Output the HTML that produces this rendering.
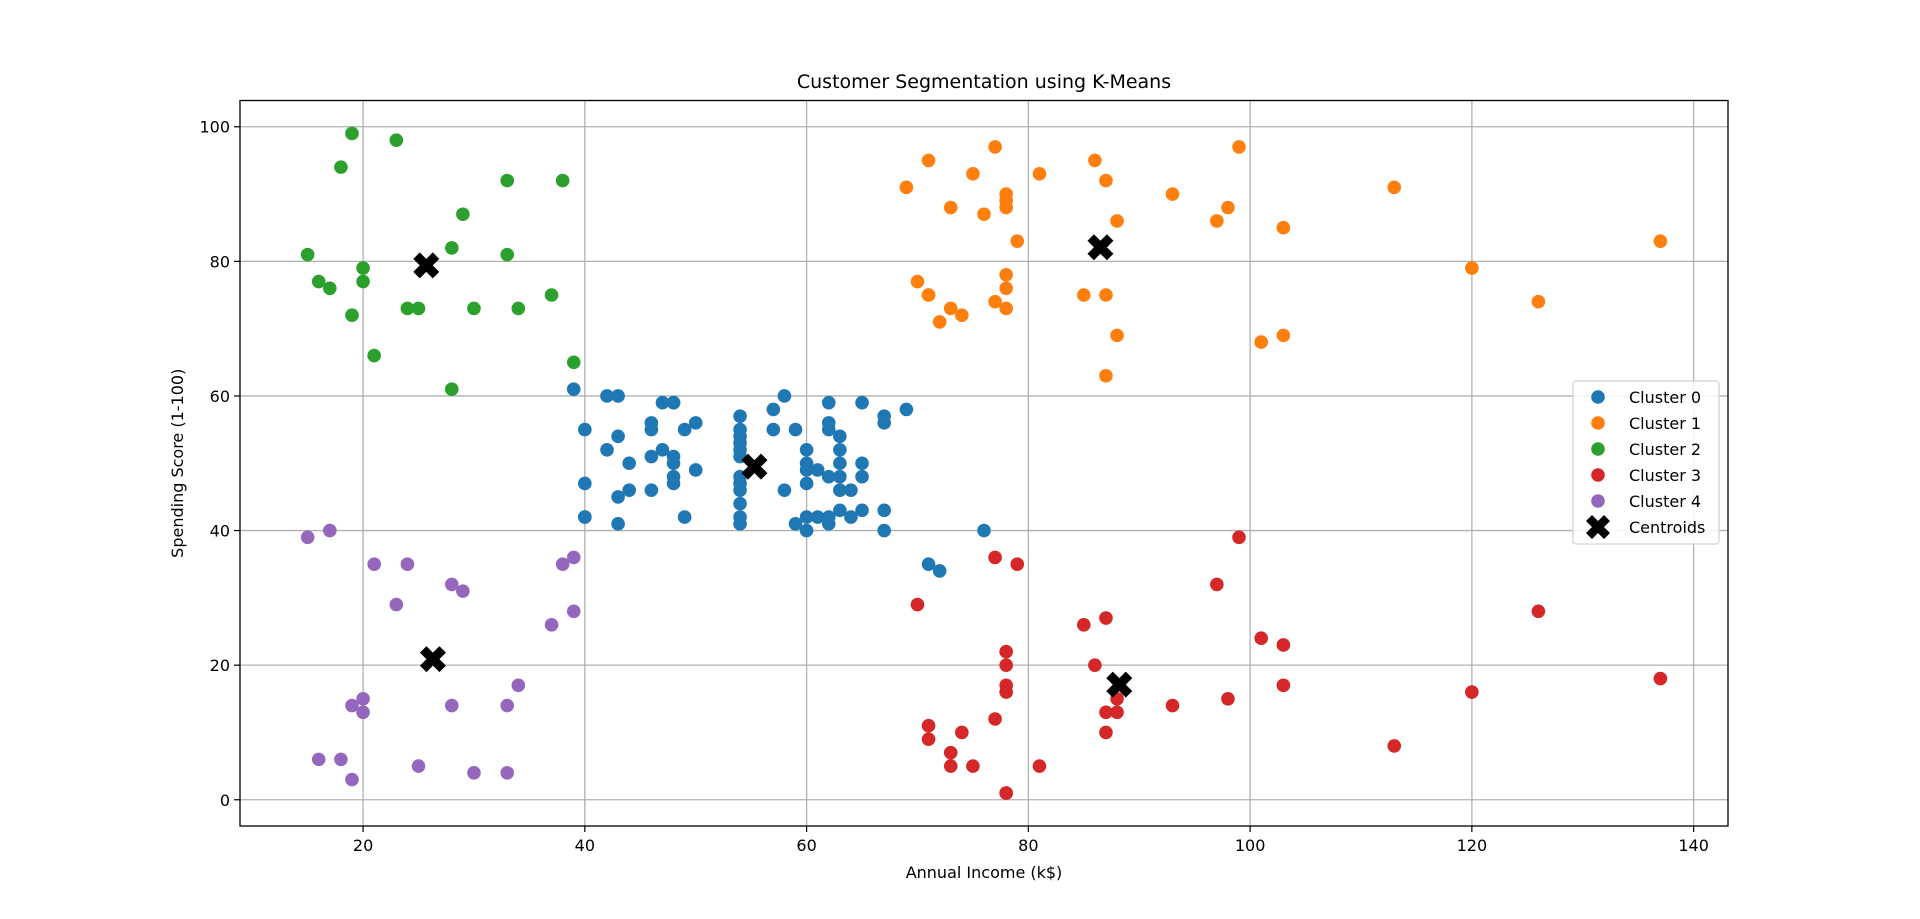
<!DOCTYPE html>
<html><head><meta charset="utf-8"><style>
body{margin:0;background:#fff;}
svg{display:block;font-family:"DejaVu Sans","Liberation Sans",sans-serif;}
</style></head><body>
<svg id="chart" width="1920" height="919" viewBox="0 0 1920 919" xmlns="http://www.w3.org/2000/svg">
<rect width="1920" height="919" fill="#fff"/>
<g id="grid"></g><g id="pts"></g><g id="axes"></g>
</svg>
<script>
const income=[15,15,16,16,17,17,18,18,19,19,19,19,20,20,20,20,21,21,23,23,24,24,25,25,28,28,28,28,29,29,30,30,33,33,33,33,34,34,37,37,38,38,39,39,39,39,40,40,40,40,42,42,43,43,43,43,44,44,46,46,46,46,47,47,48,48,48,48,48,48,49,49,50,50,54,54,54,54,54,54,54,54,54,54,54,54,57,57,58,58,59,59,60,60,60,60,60,60,61,61,62,62,62,62,62,62,63,63,63,63,63,63,64,64,65,65,65,65,67,67,67,67,69,69,70,70,71,71,71,71,71,71,72,72,73,73,73,73,74,74,75,75,76,76,77,77,77,77,78,78,78,78,78,78,78,78,78,78,78,78,79,79,81,81,85,85,86,86,87,87,87,87,87,87,88,88,88,88,93,93,97,97,98,98,99,99,101,101,103,103,103,103,113,113,120,120,126,126,137,137];
const score=[39,81,6,77,40,76,6,94,3,72,14,99,15,77,13,79,35,66,29,98,35,73,5,73,14,82,32,61,31,87,4,73,4,92,14,81,17,73,26,75,35,92,36,61,28,65,55,47,42,42,52,60,54,60,45,41,50,46,51,46,56,55,52,59,51,59,50,48,59,47,55,42,49,56,47,54,53,48,52,42,51,55,41,44,57,46,58,55,60,46,55,41,49,40,42,52,47,50,42,49,41,48,59,55,56,42,50,46,43,48,52,54,42,46,48,50,43,59,43,57,56,40,58,91,29,77,35,95,11,75,9,75,34,71,5,88,7,73,10,72,5,93,40,87,12,97,36,74,22,90,17,88,20,76,16,89,1,78,1,73,35,83,5,93,26,75,20,95,27,63,13,75,10,92,13,86,15,69,14,90,32,86,15,88,39,97,24,68,17,85,23,69,8,91,16,79,28,74,18,83];
const clusterNames=["Cluster 0","Cluster 1","Cluster 2","Cluster 3","Cluster 4"];
const centroidX=[55.3,86.5,25.7,88.2,26.3];
const centroidY=[49.5,82.1,79.4,17.1,20.9];
const xTicks=[20,40,60,80,100,120,140];
const yTicks=[0,20,40,60,80,100];
const colors=["#1f77b4","#ff7f0e","#2ca02c","#d62728","#9467bd"];
const NS="http://www.w3.org/2000/svg";
const L=240,R=1728,T=100.5,B=826;
const x0=8.9,x1=143.1,y0=-3.9,y1=103.9;
const sx=v=>L+(v-x0)/(x1-x0)*(R-L);
const sy=v=>B-(v-y0)/(y1-y0)*(B-T);
function mk(tag,at,parent,txt){const e=document.createElementNS(NS,tag);for(const k in at)e.setAttribute(k,at[k]);if(txt!==undefined)e.textContent=txt;parent.appendChild(e);return e;}
function label(i,s){
  if(s>=63&&i>=69)return 1;
  if(s>=61&&i<40&&!(i===39&&s===61))return 2;
  if(i<40&&s<=40)return 4;
  if(i>=69&&s<40&&!((i===71&&s===35)||(i===72&&s===34)))return 3;
  return 0;
}
const grid=document.getElementById('grid'),pts=document.getElementById('pts'),axes=document.getElementById('axes');
xTicks.forEach(t=>{const l=mk('line',{x1:sx(t),x2:sx(t),y1:T,y2:B,stroke:'#b0b0b0','stroke-width':1.3},grid);

mk('line',{x1:sx(t),x2:sx(t),y1:B,y2:B+6,stroke:'#000','stroke-width':1.2},axes);
const tx=mk('text',{x:sx(t),y:B+25,'font-size':16,'text-anchor':'middle'},axes,String(t));
});
yTicks.forEach(t=>{const l=mk('line',{x1:L,x2:R,y1:sy(t),y2:sy(t),stroke:'#b0b0b0','stroke-width':1.3},grid);

mk('line',{x1:L-6,x2:L,y1:sy(t),y2:sy(t),stroke:'#000','stroke-width':1.2},axes);
const tx=mk('text',{x:L-10,y:sy(t)+6,'font-size':16,'text-anchor':'end'},axes,String(t));
});
for(let c=0;c<5;c++)for(let k=0;k<income.length;k++){if(label(income[k],score[k])!==c)continue;
const p=mk('circle',{cx:sx(income[k]),cy:sy(score[k]),r:6.8,fill:colors[c]},pts);
}
function xMark(cx,cy,s,parent){const a=s*0.5,b=s;const d=`M${cx-b} ${cy-b+a}L${cx-b+a} ${cy-b}L${cx} ${cy-a}L${cx+b-a} ${cy-b}L${cx+b} ${cy-b+a}L${cx+a} ${cy}L${cx+b} ${cy+b-a}L${cx+b-a} ${cy+b}L${cx} ${cy+a}L${cx-b+a} ${cy+b}L${cx-b} ${cy+b-a}L${cx-a} ${cy}Z`;return mk('path',{d:d,fill:'#000'},parent);}
centroidX.forEach((v,i)=>{const m=xMark(sx(v),sy(centroidY[i]),13,pts);
});
const fr=mk('rect',{x:L,y:T,width:R-L,height:B-T,fill:'none',stroke:'#000','stroke-width':1.3},axes);

const ti=mk('text',{x:(L+R)/2,y:88,'font-size':19,'text-anchor':'middle'},axes,'Customer Segmentation using K-Means');

const xl=mk('text',{x:(L+R)/2,y:878,'font-size':16,'text-anchor':'middle'},axes,'Annual Income (k$)');

const yl=mk('text',{x:0,y:0,'font-size':16,'text-anchor':'middle',transform:`translate(183,${(T+B)/2}) rotate(-90)`},axes,'Spending Score (1-100)');

const lg=mk('g',{},axes);

mk('rect',{x:1573,y:381,width:146,height:163,rx:3,fill:'#fff','fill-opacity':0.85,stroke:'#d0d0d0','stroke-width':1.2},lg);
clusterNames.concat(['Centroids']).forEach((n,i)=>{const y=397+i*26;
const e=mk('g',{},lg);
if(i<5)mk('circle',{cx:1598,cy:y,r:6.8,fill:colors[i]},e);else xMark(1598,y,12,e);
mk('text',{x:1629,y:y+6,'font-size':16},e,n);});
</script>
</body></html>
